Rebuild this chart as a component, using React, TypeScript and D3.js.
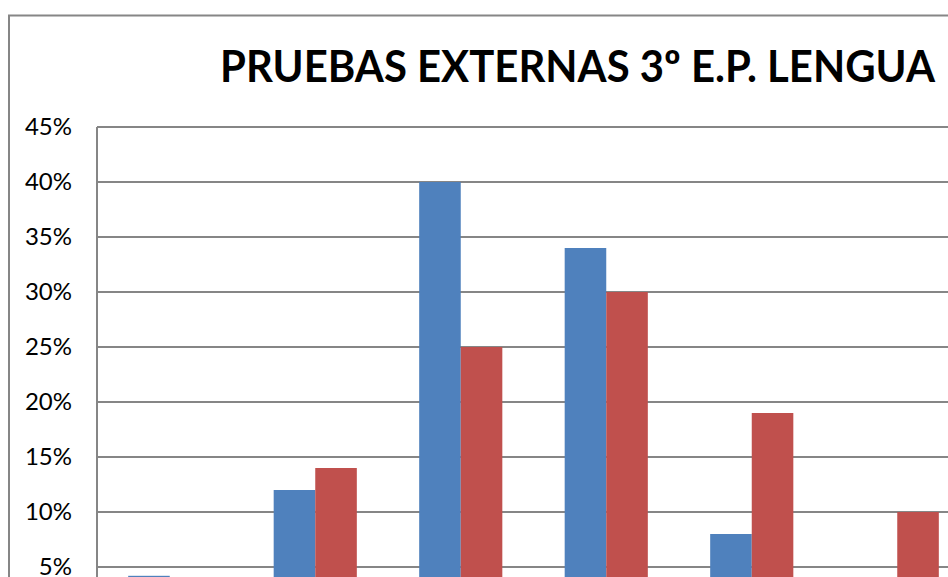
import React, { useEffect, useRef } from "react";
import * as d3 from "d3";

// Data
const categories = ["Nivel 1", "Nivel 2", "Nivel 3", "Nivel 4", "Nivel 5", "Nivel 6"];
const seriesNames = ["Centro", "Comunidad"];
const centroValues = [0.042, 0.12, 0.4, 0.34, 0.08, 0.02];
const comunidadValues = [0.02, 0.14, 0.25, 0.3, 0.19, 0.1];
const yTicks = [0, 0.05, 0.1, 0.15, 0.2, 0.25, 0.3, 0.35, 0.4, 0.45];
const colors = ["#4F81BD", "#C0504D"];
const title = "PRUEBAS EXTERNAS 3º E.P. LENGUA";

const App = () => {
  const chartRef = useRef<SVGSVGElement>(null);

  useEffect(() => {
    drawChart();
  }, []);

  const drawChart = () => {
    const svg = d3.select(chartRef.current);
    svg.selectAll("*").remove();

    const plotLeft = 97;
    const plotTop = 127;
    const plotBottom = 622;
    const step = 145.5;
    const plotRight = plotLeft + step * categories.length;

    // chart frame
    svg.append("rect")
      .attr("x", 9)
      .attr("y", 15.5)
      .attr("width", 1138)
      .attr("height", 700)
      .attr("fill", "#fff")
      .attr("stroke", "#868686")
      .attr("stroke-width", 2);

    // title
    svg.append("text")
      .attr("x", 220)
      .attr("y", 82)
      .attr("font-family", "Lato, 'Open Sans', sans-serif")
      .attr("font-weight", "bold")
      .attr("font-size", 44)
      .attr("textLength", 715)
      .attr("lengthAdjust", "spacingAndGlyphs")
      .attr("fill", "#000")
      .text(title);

    const yScale = d3.scaleLinear()
      .domain([0, 0.45])
      .range([plotBottom, plotTop]);

    const x0 = d3.scaleBand()
      .domain(categories)
      .range([plotLeft, plotRight])
      .padding(0);

    const x1 = d3.scaleBand()
      .domain(seriesNames)
      .range([0, x0.step()])
      .paddingInner(0)
      .paddingOuter(0.75);

    // gridlines
    svg.append("g")
      .selectAll("line")
      .data(yTicks)
      .enter().append("line")
      .attr("x1", plotLeft)
      .attr("x2", plotRight)
      .attr("y1", d => yScale(d))
      .attr("y2", d => yScale(d))
      .attr("stroke", "#868686")
      .attr("stroke-width", 2);

    // y axis line
    svg.append("line")
      .attr("x1", plotLeft)
      .attr("x2", plotLeft)
      .attr("y1", plotTop)
      .attr("y2", plotBottom)
      .attr("stroke", "#868686")
      .attr("stroke-width", 2);

    // y tick labels
    svg.append("g")
      .selectAll("text")
      .data(yTicks)
      .enter().append("text")
      .attr("x", 72)
      .attr("y", d => yScale(d))
      .attr("dy", "0.35em")
      .attr("text-anchor", "end")
      .attr("font-family", "Lato, 'Open Sans', sans-serif")
      .attr("font-size", 24)
      .attr("fill", "#000")
      .text(d => d3.format(".0%")(d));

    // bars
    const allSeries = [centroValues, comunidadValues];
    allSeries.forEach((values, si) => {
      svg.append("g")
        .selectAll("rect")
        .data(values)
        .enter().append("rect")
        .attr("x", (d, i) => x0(categories[i])! + x1(seriesNames[si])!)
        .attr("y", d => yScale(d))
        .attr("width", x1.bandwidth())
        .attr("height", d => plotBottom - yScale(d))
        .attr("fill", colors[si]);
    });

    // category labels (below visible area)
    svg.append("g")
      .selectAll("text")
      .data(categories)
      .enter().append("text")
      .attr("x", d => x0(d)! + x0.bandwidth() / 2)
      .attr("y", plotBottom + 28)
      .attr("text-anchor", "middle")
      .attr("font-family", "Lato, 'Open Sans', sans-serif")
      .attr("font-size", 24)
      .text(d => d);

    // legend (right of plot)
    const legend = svg.append("g").attr("transform", `translate(${plotRight + 30}, 330)`);
    seriesNames.forEach((name, i) => {
      legend.append("rect")
        .attr("x", 0)
        .attr("y", i * 40)
        .attr("width", 14)
        .attr("height", 14)
        .attr("fill", colors[i]);
      legend.append("text")
        .attr("x", 22)
        .attr("y", i * 40 + 7)
        .attr("dy", "0.35em")
        .attr("font-family", "Lato, 'Open Sans', sans-serif")
        .attr("font-size", 22)
        .text(name);
    });
  };

  return (
    <svg
      ref={chartRef}
      width={948}
      height={577}
      style={{ position: "absolute", left: 0, top: 0, background: "#fff" }}
    />
  );
};

export default App;
